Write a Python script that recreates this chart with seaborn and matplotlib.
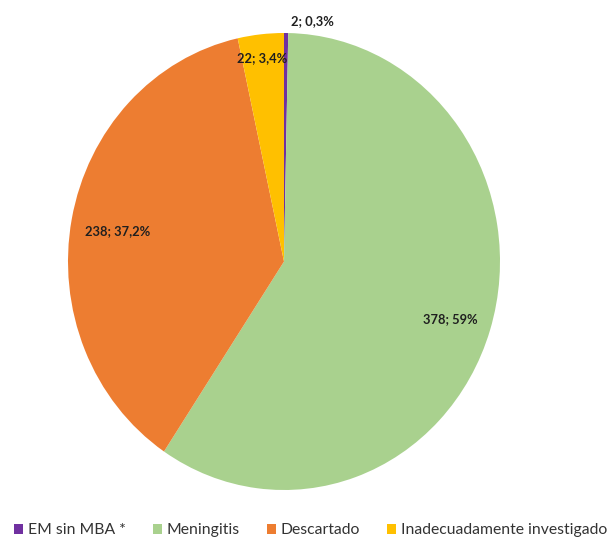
import matplotlib
matplotlib.use("Agg")
import matplotlib.pyplot as plt
import seaborn as sns
from matplotlib.patches import Patch

# Data
categories = ["EM sin MBA *", "Meningitis", "Descartado", "Inadecuadamente investigado"]
counts = [2, 378, 238, 22]
pct_labels = ["2; 0,3%", "378; 59%", "238; 37,2%", "22; 3,4%"]
colors = ["#7030A0", "#A9D18E", "#ED7D31", "#FFC000"]

# label positions in axes data units (pie radius = 1)
label_pos = [(0.13, 1.05), (0.77, -0.25), (-0.77, 0.135), (-0.10, 0.89)]

sns.set_style("white")
plt.rcParams["font.family"] = ["Lato", "DejaVu Sans"]

fig = plt.figure(figsize=(6.13, 5.39), dpi=100)
# pie drawn slightly taller than wide, like the reference
ax = fig.add_axes([68 / 613, 49 / 539, 432 / 613, 457 / 539])

wedges, _ = ax.pie(
    counts,
    colors=colors,
    startangle=90,
    counterclock=False,
    radius=1.0,
    wedgeprops={"linewidth": 0},
)
ax.set_aspect("auto")
ax.set_xlim(-1, 1)
ax.set_ylim(-1, 1)
ax.axis("off")

for (x, y), txt in zip(label_pos, pct_labels):
    ax.text(x, y, txt, ha="center", va="center", fontsize=9.3,
            fontweight="bold", color="#1f1f1f", clip_on=False)

handles = [Patch(facecolor=c, edgecolor="none") for c in colors]
fig.legend(
    handles, categories,
    loc="center", bbox_to_anchor=(0.5065, 0.016),
    ncol=4, frameon=False, fontsize=11.3,
    handlelength=0.57, handleheight=0.57, handletextpad=0.32,
    columnspacing=1.72, labelcolor="#333333",
)

fig.savefig("out.png", dpi=100, facecolor="white")
